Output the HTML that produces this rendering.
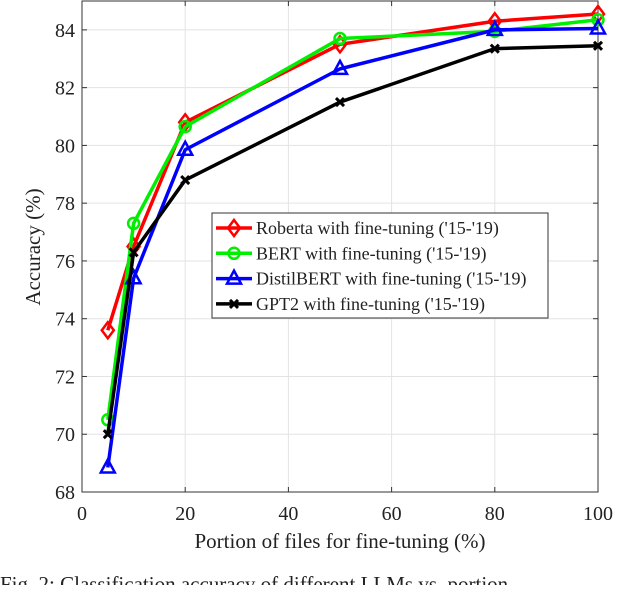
<!DOCTYPE html>
<html><head><meta charset="utf-8"><style>
body{margin:0;background:#fff;width:640px;height:585px;overflow:hidden}
svg text{font-family:"Liberation Serif",serif;fill:#222}
</style></head><body>
<svg id="chart" width="640" height="585">
<g id="grid"></g>
<g id="axes"></g>
<g id="series"></g>
<text x="40" y="247" font-size="21" text-anchor="middle" transform="rotate(-90 40 247)">Accuracy (%)</text>
<text x="340" y="548" font-size="21" text-anchor="middle">Portion of files for fine-tuning (%)</text>
<text x="0" y="591" font-size="21">Fig. 2: Classification accuracy of different LLMs vs. portion</text>
<g id="legend"></g>
</svg>
<script>
const xValues=[5,10,20,50,80,100];
const roberta=[73.6,76.5,80.8,83.5,84.3,84.55];
const bert=[70.5,77.3,80.65,83.7,83.95,84.35];
const distil=[68.85,75.4,79.85,82.65,84.0,84.05];
const gpt2=[70.0,76.3,78.8,81.5,83.35,83.45];
const xTicks=[0,20,40,60,80,100];
const yTicks=[68,70,72,74,76,78,80,82,84];
const legendLabels=["Roberta with fine-tuning ('15-'19)","BERT with fine-tuning ('15-'19)","DistilBERT with fine-tuning ('15-'19)","GPT2  with fine-tuning ('15-'19)"];
const L=82,R=598,T=1,B=492,ymin=68,ymax=85;
const sx=v=>L+(v/100)*(R-L);
const sy=v=>B-(v-ymin)/(ymax-ymin)*(B-T);
const NS="http://www.w3.org/2000/svg";
function mk(tag,at,parent){const e=document.createElementNS(NS,tag);for(const k in at)e.setAttribute(k,at[k]);parent.appendChild(e);return e;}
const grid=document.getElementById('grid'),axes=document.getElementById('axes'),ser=document.getElementById('series'),leg=document.getElementById('legend');
xTicks.forEach(t=>{const x=sx(t);
 const g=mk('line',{x1:x,x2:x,y1:T,y2:B,stroke:'#e3e3e3','stroke-width':1},grid);
 
 mk('line',{x1:x,x2:x,y1:B,y2:B-5,stroke:'#333'},axes);mk('line',{x1:x,x2:x,y1:T,y2:T+5,stroke:'#333'},axes);
 const tx=mk('text',{x:x,y:B+28,'font-size':20,'text-anchor':'middle'},axes);tx.textContent=t;
 });
yTicks.forEach(t=>{const y=sy(t);
 const g=mk('line',{x1:L,x2:R,y1:y,y2:y,stroke:'#e3e3e3','stroke-width':1},grid);
 
 mk('line',{x1:L,x2:L+5,y1:y,y2:y,stroke:'#333'},axes);mk('line',{x1:R,x2:R-5,y1:y,y2:y,stroke:'#333'},axes);
 const tx=mk('text',{x:L-7,y:y+7,'font-size':20,'text-anchor':'end'},axes);tx.textContent=t;
 });
mk('rect',{x:L,y:T,width:R-L,height:B-T,fill:'none',stroke:'#333','stroke-width':1},axes);
function marker(type,x,y,c,p){
 if(type==='d')return mk('path',{d:`M${x} ${y-8}L${x+6} ${y}L${x} ${y+8}L${x-6} ${y}Z`,fill:'none',stroke:c,'stroke-width':2.5},p);
 if(type==='o')return mk('circle',{cx:x,cy:y,r:5.5,fill:'none',stroke:c,'stroke-width':2.5},p);
 if(type==='t')return mk('path',{d:`M${x} ${y-8}L${x+7} ${y+5}L${x-7} ${y+5}Z`,fill:'none',stroke:c,'stroke-width':2.5},p);
 return mk('path',{d:`M${x-4} ${y-4}L${x+4} ${y+4}M${x+4} ${y-4}L${x-4} ${y+4}`,stroke:c,'stroke-width':3},p);}
const defs=[[roberta,'#ff0000','d','roberta'],[bert,'#00ee00','o','bert'],[distil,'#0000ff','t','distilbert'],[gpt2,'#000000','x','gpt2']];
defs.forEach(([data,c,m,n])=>{
 const g=mk('g',{},ser);
 const pl=mk('polyline',{points:data.map((v,i)=>sx(xValues[i])+','+sy(v)).join(' '),fill:'none',stroke:c,'stroke-width':3.5,'stroke-linejoin':'round'},g);
 
 data.forEach((v,i)=>{const e=marker(m,sx(xValues[i]),sy(v),c,g);
  });});
const lb=mk('rect',{x:212,y:213,width:336,height:105,fill:'#fff',stroke:'#333','stroke-width':1},leg);

defs.forEach(([d,c,m,n],i)=>{const y=228+i*25.3;
 const g=mk('g',{},leg);
 mk('line',{x1:216,x2:252,y1:y,y2:y,stroke:c,'stroke-width':3.5},g);marker(m,234,y,c,g);
 const t=mk('text',{x:256,y:y+6,'font-size':18},g);t.textContent=legendLabels[i];});
</script>
</body></html>
